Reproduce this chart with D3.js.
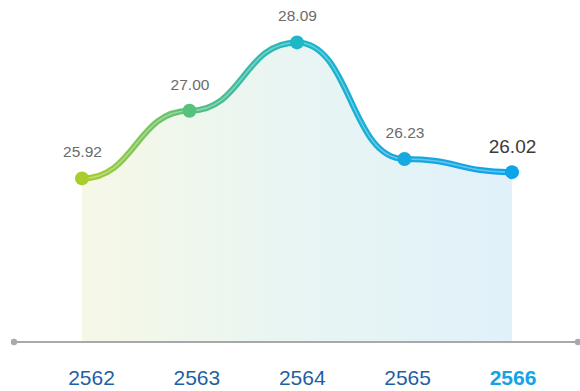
<!DOCTYPE html>
<html>
<head>
<meta charset="utf-8">
<script src="https://cdn.jsdelivr.net/npm/d3@7"></script>
<style>
  html, body { margin: 0; padding: 0; background: #ffffff; }
  svg { display: block; }
</style>
</head>
<body>
<svg id="chart" width="580" height="391"></svg>
<script>
const years = ["2562", "2563", "2564", "2565", "2566"];
const values = [25.92, 27.00, 28.09, 26.23, 26.02];
const pointColors = ["#a9cd2c", "#57c07c", "#1db7c8", "#17a9df", "#0ea4e8"];
const yDomain = [23.31, 28.09];

const svg = d3.select("#chart");
const W = 580, H = 391;
const baseY = 342;

const x = d3.scalePoint().domain(years).range([82, 512]);
const xLabel = d3.scalePoint().domain(years).range([91.5, 513]);
const y = d3.scaleLinear().domain(yDomain).range([baseY, 42.4]);

const defs = svg.append("defs");
const lineGrad = defs.append("linearGradient")
  .attr("id", "lineGrad").attr("gradientUnits", "userSpaceOnUse")
  .attr("x1", x(years[0])).attr("x2", x(years[years.length - 1]))
  .attr("y1", 0).attr("y2", 0);
pointColors.forEach((c, i) => lineGrad.append("stop")
  .attr("offset", i / (pointColors.length - 1)).attr("stop-color", c));

const areaGrad = defs.append("linearGradient")
  .attr("id", "areaGrad").attr("gradientUnits", "userSpaceOnUse")
  .attr("x1", x(years[0])).attr("x2", x(years[years.length - 1]))
  .attr("y1", 0).attr("y2", 0);
areaGrad.append("stop").attr("offset", 0).attr("stop-color", "#f6f8e6");
areaGrad.append("stop").attr("offset", 0.5).attr("stop-color", "#e8f5f3");
areaGrad.append("stop").attr("offset", 1).attr("stop-color", "#e1f1fa");

const data = years.map((yr, i) => ({ yr, v: values[i] }));

// area
const area = d3.area()
  .x(d => x(d.yr)).y0(baseY).y1(d => y(d.v))
  .curve(d3.curveBumpX);
svg.append("path").datum(data).attr("d", area).attr("fill", "url(#areaGrad)");

// axis line
svg.append("line").attr("x1", 14).attr("x2", 578).attr("y1", baseY).attr("y2", baseY)
  .attr("stroke", "#a9a9ab").attr("stroke-width", 2);
[14, 578].forEach(cx => svg.append("circle").attr("cx", cx).attr("cy", baseY)
  .attr("r", 3.2).attr("fill", "#a9a9ab"));

// line
const line = d3.line().x(d => x(d.yr)).y(d => y(d.v)).curve(d3.curveBumpX);
svg.append("path").datum(data).attr("d", line)
  .attr("fill", "none").attr("stroke", "url(#lineGrad)").attr("stroke-width", 6)
  .attr("stroke-linecap", "round");
svg.append("path").datum(data).attr("d", line)
  .attr("fill", "none").attr("stroke", "#ffffff").attr("stroke-opacity", 0.35)
  .attr("stroke-width", 1.5);

// points
svg.selectAll("circle.pt").data(data).join("circle").attr("class", "pt")
  .attr("cx", d => x(d.yr)).attr("cy", d => y(d.v)).attr("r", 7)
  .attr("fill", (d, i) => pointColors[i]);

// value labels
const last = data.length - 1;
svg.selectAll("text.val").data(data).join("text").attr("class", "val")
  .attr("x", d => x(d.yr) + 0.5)
  .attr("y", (d, i) => y(d.v) - (i === last ? 19 : 21))
  .attr("text-anchor", "middle")
  .attr("font-family", "'Liberation Sans', Arial, sans-serif")
  .attr("font-size", (d, i) => i === last ? 19 : 15.5)
  .attr("fill", (d, i) => i === last ? "#3a3a3a" : "#6b6b6b")
  .text(d => d.v.toFixed(2));

// year labels
svg.selectAll("text.yr").data(years).join("text").attr("class", "yr")
  .attr("x", d => xLabel(d)).attr("y", 385)
  .attr("text-anchor", "middle")
  .attr("font-family", "'Liberation Sans', Arial, sans-serif")
  .attr("font-size", 21)
  .attr("font-weight", (d, i) => i === last ? "bold" : "normal")
  .attr("fill", (d, i) => i === last ? "#12a4e4" : "#1f5fa5")
  .text(d => d);
</script>
</body>
</html>
